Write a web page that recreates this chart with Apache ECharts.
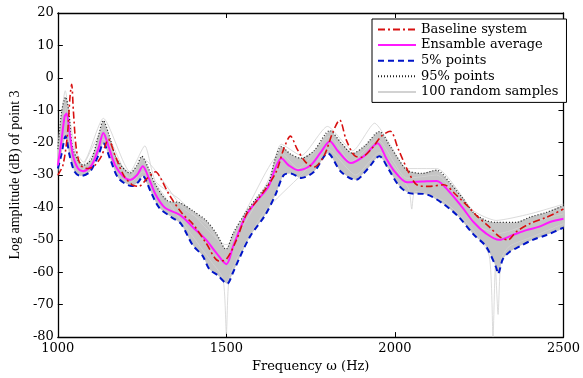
<!DOCTYPE html>
<html>
<head>
<meta charset="utf-8">
<script src="https://cdn.jsdelivr.net/npm/echarts@6.0.0/dist/echarts.min.js"></script>
<style>
  html, body { margin: 0; padding: 0; background: #fff; }
  #chart { width: 583px; height: 378px; }
</style>
</head>
<body>
<div id="chart"></div>
<script>
// frequency (Hz) / log amplitude (dB) pairs
var baseline = [[1000,-30],[1015,-27],[1028,-18],[1036,-6],[1041,-2],[1046,-10],[1055,-22],[1068,-27],[1090,-28],
  [1110,-27],[1130,-24],[1150,-19],[1170,-24],[1195,-30],[1220,-33],[1240,-33.5],[1265,-31],[1290,-29],[1305,-31],
  [1330,-36],[1370,-42],[1400,-45],[1440,-51],[1478,-56.5],[1500,-56],[1530,-50],[1560,-42],[1590,-38],[1625,-33],
  [1650,-28.5],[1670,-22],[1690,-18],[1710,-22],[1735,-26],[1760,-27.5],[1790,-24],[1815,-17],[1836,-13],[1855,-19],
  [1880,-24],[1900,-24.5],[1930,-22],[1960,-18],[1986,-16.5],[2010,-22],[2040,-29],[2065,-33],[2100,-33.5],[2145,-33],
  [2180,-36],[2220,-40],[2242,-42.5],[2280,-46],[2310,-49],[2335,-50],[2360,-47.5],[2400,-45],[2450,-43],[2500,-40.5]];

var ensembleAvg = [[1000,-27],[1010,-20],[1020,-12],[1026,-11],[1035,-17],[1045,-24],[1060,-28],[1075,-28.8],[1100,-27],
  [1120,-22],[1135,-17],[1150,-21],[1170,-27],[1195,-30.5],[1214,-31.5],[1235,-30],[1252,-27.3],[1270,-31],[1290,-36],
  [1317,-40],[1365,-42.5],[1400,-46],[1440,-50],[1470,-54],[1500,-57.5],[1520,-52],[1558,-42.5],[1590,-38],[1625,-33.5],
  [1645,-28],[1663,-24.8],[1685,-27],[1713,-28.5],[1750,-27],[1780,-23],[1807,-19.6],[1830,-22.5],[1869,-26.3],[1910,-24],
  [1948,-20.2],[1975,-25],[2000,-29],[2036,-32.2],[2080,-32],[2124,-31.8],[2160,-35],[2200,-40],[2233,-44.5],[2270,-48],
  [2309,-50],[2350,-48.5],[2390,-47],[2426,-46],[2460,-44.5],[2500,-43.5]];

var p5 = [[1000,-28],[1010,-24],[1023,-18],[1035,-24],[1050,-29],[1068,-30.3],[1095,-29],[1120,-24],[1135,-20.2],
  [1155,-25],[1180,-31],[1220,-33.4],[1240,-32],[1252,-30.3],[1275,-35],[1300,-40],[1337,-43],[1365,-45],[1400,-51.6],
  [1430,-55],[1449,-59],[1475,-61],[1502,-63.5],[1520,-60],[1537,-56],[1570,-49],[1616,-42.2],[1646,-36],[1670,-30],
  [1690,-29.5],[1722,-30.9],[1760,-29],[1801,-23.3],[1840,-29],[1884,-31.5],[1920,-28],[1954,-24.2],[1980,-28],
  [2010,-33],[2040,-35.5],[2095,-36],[2145,-39],[2190,-43],[2233,-48.3],[2270,-52],[2300,-58.4],[2306,-60.5],[2320,-56],
  [2339,-53.8],[2370,-52],[2409,-50],[2450,-48.5],[2500,-46.2]];

var p95 = [[1000,-22],[1012,-10],[1023,-6],[1032,-10],[1045,-22],[1076,-27],[1100,-25],[1120,-18],[1135,-13.2],
  [1150,-17],[1175,-25],[1214,-29.4],[1235,-27],[1249,-24.2],[1265,-27],[1290,-33],[1326,-38],[1361,-38.5],[1400,-41],
  [1440,-44],[1470,-48],[1499,-52.9],[1520,-48],[1557,-41.6],[1590,-37],[1625,-32.4],[1645,-25],[1663,-21.2],[1690,-23.5],
  [1722,-24.8],[1760,-22.5],[1807,-16.3],[1840,-20],[1875,-23.3],[1910,-21],[1954,-16.6],[1985,-21],[2010,-25],
  [2036,-28.5],[2080,-29.5],[2124,-28.5],[2160,-32],[2200,-37],[2233,-41.6],[2270,-44],[2300,-44.6],[2359,-44.6],
  [2400,-43],[2450,-41.5],[2500,-39.5]];

// a few of the visible random sample curves
var sampleHigh = [[1000,-21],[1022,-4],[1045,-21],[1076,-26],[1135,-12.5],[1214,-29],[1258,-21],[1290,-32],[1361,-37.5],
  [1499,-51.5],[1625,-31.5],[1663,-20.5],[1722,-24],[1800,-15],[1875,-22.5],[1940,-14],[1985,-20.5],[2036,-28],[2124,-28],
  [2233,-41],[2300,-44],[2400,-42],[2500,-39]];
var sampleLow = [[1000,-29],[1023,-17],[1068,-29],[1135,-19],[1220,-32],[1252,-29],[1365,-44],[1450,-56],[1490,-62],
  [1500,-79],[1508,-62],[1540,-54],[1616,-41],[1722,-30],[1801,-22],[1884,-30],[1954,-23],[2040,-34],[2050,-40.5],
  [2060,-35],[2145,-38],[2233,-47],[2280,-55],[2291,-80],[2298,-58],[2306,-73],[2315,-56],[2339,-52],[2409,-49],[2500,-45]];
var sampleMid = [[1000,-26],[1026,-9],[1068,-28],[1135,-16],[1214,-31],[1252,-25],[1370,-40],[1440,-45],[1500,-53],
  [1558,-41],[1663,-23],[1713,-28],[1807,-18],[1869,-26],[1948,-19],[2036,-31],[2124,-30],[2233,-45],[2309,-48],
  [2426,-44],[2500,-42]];

var xTicks = { min: 1000, max: 2500, interval: 500 };
var yTicks = { min: -80, max: 20, interval: 10 };

var serif = 'DejaVu Serif';

function sampleSeries(data) {
    return {
        name: '100 random samples', type: 'line', data: data, symbol: 'none', smooth: 0.2,
        lineStyle: { color: '#d2d2d2', width: 0.8 }, itemStyle: { color: '#d2d2d2' }, z: 2
    };
}

function axisX(pos) {
    return {
        type: 'value', position: pos, min: xTicks.min, max: xTicks.max, interval: xTicks.interval,
        axisLine: { show: true, onZero: false, lineStyle: { color: '#000', width: 1.3 } },
        axisTick: { show: true, inside: true, length: 5, lineStyle: { color: '#000' } },
        axisLabel: {
            show: pos === 'bottom', color: '#000', fontFamily: serif, fontSize: 13, margin: 5,
            formatter: function (v) { return String(v); }
        },
        splitLine: { show: false }
    };
}

function axisY(pos) {
    return {
        type: 'value', position: pos, min: yTicks.min, max: yTicks.max, interval: yTicks.interval,
        axisLine: { show: true, onZero: false, lineStyle: { color: '#000', width: 1.3 } },
        axisTick: { show: true, inside: true, length: 5, lineStyle: { color: '#000' } },
        axisLabel: { show: pos === 'left', color: '#000', fontFamily: serif, fontSize: 13, margin: 4 },
        splitLine: { show: false }
    };
}

var chart = echarts.init(document.getElementById('chart'), null, { renderer: 'canvas' });

var xBottom = axisX('bottom');
xBottom.name = 'Frequency \u03c9 (Hz)';
xBottom.nameLocation = 'middle';
xBottom.nameGap = 19;
xBottom.nameTextStyle = { color: '#000', fontFamily: serif, fontSize: 13 };

var yLeft = axisY('left');
yLeft.name = 'Log amplitude (dB) of point 3';
yLeft.nameLocation = 'middle';
yLeft.nameGap = 31;
yLeft.nameTextStyle = { color: '#000', fontFamily: 'Liberation Serif', fontSize: 14 };

chart.setOption({
    animation: false,
    backgroundColor: '#fff',
    grid: { left: 57, top: 13, right: 15, bottom: 37 },
    xAxis: [xBottom, axisX('top')],
    yAxis: [yLeft, axisY('right')],
    legend: {
        left: 372, top: 19, orient: 'vertical',
        padding: [4, 8, 4, 5],
        itemWidth: 38, itemHeight: 14, itemGap: 2.6,
        backgroundColor: '#fff', borderColor: '#000', borderWidth: 1,
        selectedMode: false,
        itemStyle: { opacity: 0, borderWidth: 0 },
        textStyle: { color: '#000', fontFamily: serif, fontSize: 13 },
        data: ['Baseline system', 'Ensamble average', '5% points', '95% points', '100 random samples']
    },
    series: [
        {
            name: 'spread', type: 'custom', coordinateSystem: 'cartesian2d', silent: true, z: 1,
            data: [[1500, -30]],
            renderItem: function (params, api) {
                var pts = [];
                p95.forEach(function (p) { pts.push(api.coord(p)); });
                for (var i = p5.length - 1; i >= 0; i--) pts.push(api.coord(p5[i]));
                return { type: 'polygon', shape: { points: pts, smooth: 0.2 }, style: { fill: '#c4c4c4' } };
            }
        },
        sampleSeries(sampleHigh),
        sampleSeries(sampleLow),
        sampleSeries(sampleMid),
        {
            name: '95% points', type: 'line', data: p95, symbol: 'none', smooth: 0.3, z: 3,
            itemStyle: { color: '#222' },
            lineStyle: { color: '#222', width: 1.2, type: [1, 2] }
        },
        {
            name: '5% points', type: 'line', data: p5, symbol: 'none', smooth: 0.3, z: 4,
            itemStyle: { color: '#0015c8' },
            lineStyle: { color: '#0015c8', width: 2, type: [6, 4] }
        },
        {
            name: 'Ensamble average', type: 'line', data: ensembleAvg, symbol: 'none', smooth: 0.3, z: 5,
            itemStyle: { color: '#ff19ff' },
            lineStyle: { color: '#ff19ff', width: 2 }
        },
        {
            name: 'Baseline system', type: 'line', data: baseline, symbol: 'none', smooth: 0.3, z: 6,
            itemStyle: { color: '#d81010' },
            lineStyle: { color: '#d81010', width: 1.6, type: [7, 3, 2, 3] }
        }
    ]
});
</script>
</body>
</html>
